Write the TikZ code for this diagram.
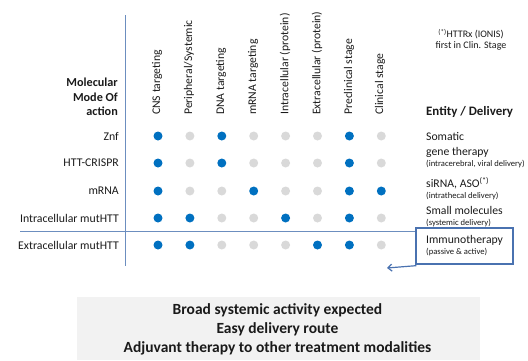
\documentclass[tikz,border=0pt]{standalone}
\usepackage{fontspec}
\setmainfont{Carlito}
\usetikzlibrary{arrows.meta}
\definecolor{dotblue}{HTML}{0070C0}
\definecolor{dotgray}{HTML}{D9D9D9}
\definecolor{linecol}{HTML}{6C8EBF}
\definecolor{boxcol}{HTML}{4A72B0}
\definecolor{txt}{HTML}{1A1A1A}
\definecolor{panel}{HTML}{F2F2F2}
\tikzset{
  bdot/.style={circle,fill=dotblue,minimum size=9pt,inner sep=0pt},
  gdot/.style={circle,fill=dotgray,minimum size=9pt,inner sep=0pt},
  colhead/.style={rotate=90,anchor=west,inner sep=0pt,font=\fontsize{11.7}{13}\selectfont,text=txt},
  rowlab/.style={anchor=east,inner sep=0pt,font=\fontsize{11.8}{13}\selectfont,text=txt},
  entlab/.style={anchor=west,inner sep=0pt,font=\fontsize{11.7}{13}\selectfont,text=txt},
  sublab/.style={anchor=west,inner sep=0pt,font=\fontsize{8.6}{9}\selectfont,text=txt},
  headbold/.style={inner sep=0pt,font=\bfseries\fontsize{12.2}{14.5}\selectfont,text=txt},
  gridline/.style={draw=linecol,line width=0.8pt},
}
\begin{document}
\begin{tikzpicture}[x=1pt,y=-1pt]
\useasboundingbox (0,0) rectangle (528,360);
% bottom panel
\node[fill=panel,minimum width=403pt,minimum height=63pt,inner sep=0pt,anchor=north west] (panel) at (77,297) {};
\node[headbold,font=\bfseries\fontsize{15.5}{19}\selectfont,align=center] (ptext) at (277.5,329)
  {Broad systemic activity expected\\Easy delivery route\\Adjuvant therapy to other treatment modalities};

% grid lines
\coordinate (vtop) at (125,15);
\coordinate (vbot) at (125,266);
\draw[gridline] (vtop) -- (vbot);

% immunotherapy box
\node[draw=boxcol,line width=1.3pt,minimum width=97pt,minimum height=36pt,inner sep=0pt] (imm) at (464.5,246) {};
\coordinate (hl) at (20,231);
\draw[gridline] (hl) -- (hl -| imm.west);
\coordinate (arrtip) at (387,268);
\draw[draw=boxcol,line width=1.2pt,-{Straight Barb[length=4pt,width=7pt]}] ([xshift=1pt,yshift=-1pt]imm.south west) -- (arrtip);

% header
\node[headbold,align=right,anchor=east] (mmoa) at (118,97) {Molecular\\Mode Of\\action};
\node[headbold,font=\bfseries\fontsize{12.9}{14}\selectfont,anchor=west] (ent) at (426,112) {Entity / Delivery};
\node[inner sep=0pt,font=\fontsize{10}{10.5}\selectfont,text=txt,align=center] (note) at (471,39.5)
  {\textsuperscript{(*)}HTTRx (IONIS)\\first in Clin. Stage};

% column headers
\node[colhead] (c1) at (157,115) {CNS targeting};
\node[colhead] (c2) at (189,115) {Peripheral/Systemic};
\node[colhead] (c3) at (221,115) {DNA targeting};
\node[colhead] (c4) at (253,115) {mRNA targeting};
\node[colhead] (c5) at (285,115) {Intracellular (protein)};
\node[colhead] (c6) at (317,115) {Extracellular (protein)};
\node[colhead] (c7) at (349,115) {Preclinical stage};
\node[colhead] (c8) at (380,115) {Clinical stage};

% row labels
\node[rowlab] (r1) at (119,136) {Znf};
\node[rowlab] (r2) at (119,163) {HTT-CRISPR};
\node[rowlab] (r3) at (119,191) {mRNA};
\node[rowlab] (r4) at (119,218) {Intracellular mutHTT};
\node[rowlab] (r5) at (119,245) {Extracellular mutHTT};

% dots
\foreach \row/\y/\pat in {1/136/{b,g,b,g,g,g,b,g},2/163/{b,g,b,g,g,g,b,g},3/191/{b,g,g,b,g,g,b,b},4/218/{b,b,g,g,b,g,b,g},5/245/{b,b,g,g,g,b,b,g}}{
  \foreach \k [count=\c] in \pat {
    \pgfmathsetmacro{\xx}{158+31.9*(\c-1)}
    \node[\k dot] (d\row\c) at (\xx,\y) {};
  }
}

% entity labels
\node[entlab] (e1a) at (426,136) {Somatic};
\node[entlab] (e1b) at (426,152) {gene therapy};
\node[sublab] (e1c) at (426,164.5) {(intracerebral, viral delivery)};
\node[entlab] (e2a) at (426,183) {siRNA, ASO\textsuperscript{(*)}};
\node[sublab] (e2b) at (426,196.5) {(intrathecal delivery)};
\node[entlab] (e3a) at (426,210) {Small molecules};
\node[sublab] (e3b) at (426,223.5) {(systemic delivery)};
\node[entlab] (e4a) at (426,240) {Immunotherapy};
\node[sublab] (e4b) at (426,252.5) {(passive \& active)};
\end{tikzpicture}
\end{document}
